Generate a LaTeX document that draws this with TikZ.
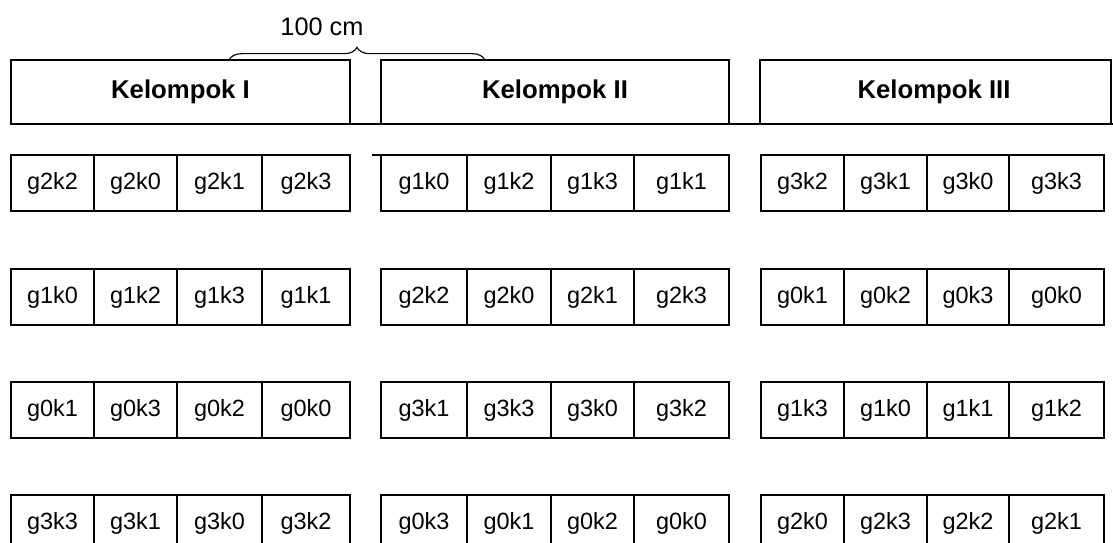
\documentclass[tikz,border=0pt]{standalone}
\usepackage{fontspec}
\setmainfont{Liberation Sans}
\usetikzlibrary{decorations.pathreplacing}

\tikzset{
	cell/.style={font=\fontsize{16.7}{20}\selectfont},
	head/.style={font=\fontsize{18.3}{22}\selectfont\bfseries},
}

\begin{document}
\begin{tikzpicture}[x=0.025cm,y=-0.025cm,line width=1.4pt]

	\useasboundingbox (0,0) rectangle (1113,543);
	\clip (0,0) rectangle (1113,543);

	\coordinate (b1) at (229,60);
	\coordinate (b2) at (485,60);
	\draw[line width=0.8pt,decorate,decoration={brace,amplitude=9pt}] (b1) -- (b2);
	\node (len) at (322,27) {\fontsize{18}{22}\selectfont 100 cm};

	\draw (11,60) rectangle (350,124);
	\draw (381,60) rectangle (729,124);
	\draw (760,124) |- (1111,60) -- (1111,124);
	\draw (11,124) -- (1113,124);

	\node[head] (k1) at (180.5,92) {Kelompok I};
	\node[head] (k2) at (555,92) {Kelompok II};
	\node[head] (k3) at (934,92) {Kelompok III};

	\draw (372,155) -- (381,155);

	\draw (11,155) rectangle (350,211) (94,155) -- (94,211) (177,155) -- (177,211) (262,155) -- (262,211);
	\draw (381,155) rectangle (729,211) (467,155) -- (467,211) (551,155) -- (551,211) (634,155) -- (634,211);
	\draw (761,155) rectangle (1104,211) (844,155) -- (844,211) (927,155) -- (927,211) (1009,155) -- (1009,211);

	\draw (11,269) rectangle (350,325) (94,269) -- (94,325) (177,269) -- (177,325) (262,269) -- (262,325);
	\draw (381,269) rectangle (729,325) (467,269) -- (467,325) (551,269) -- (551,325) (634,269) -- (634,325);
	\draw (761,269) rectangle (1104,325) (844,269) -- (844,325) (927,269) -- (927,325) (1009,269) -- (1009,325);

	\draw (11,382) rectangle (350,438) (94,382) -- (94,438) (177,382) -- (177,438) (262,382) -- (262,438);
	\draw (381,382) rectangle (729,438) (467,382) -- (467,438) (551,382) -- (551,438) (634,382) -- (634,438);
	\draw (761,382) rectangle (1104,438) (844,382) -- (844,438) (927,382) -- (927,438) (1009,382) -- (1009,438);

	\draw (11,495) rectangle (350,551) (94,495) -- (94,551) (177,495) -- (177,551) (262,495) -- (262,551);
	\draw (381,495) rectangle (729,551) (467,495) -- (467,551) (551,495) -- (551,551) (634,495) -- (634,551);
	\draw (761,495) rectangle (1104,551) (844,495) -- (844,551) (927,495) -- (927,551) (1009,495) -- (1009,551);

	\path[cell] (52.5,183) node (a11) {g2k2} (135.5,183) node (a12) {g2k0} (219.5,183) node (a13) {g2k1} (306,183) node (a14) {g2k3};
	\path[cell] (424,183) node (b11) {g1k0} (509,183) node (b12) {g1k2} (592.5,183) node (b13) {g1k3} (681.5,183) node (b14) {g1k1};
	\path[cell] (802.5,183) node (c11) {g3k2} (885.5,183) node (c12) {g3k1} (968,183) node (c13) {g3k0} (1056.5,183) node (c14) {g3k3};

	\path[cell] (52.5,297) node (a21) {g1k0} (135.5,297) node (a22) {g1k2} (219.5,297) node (a23) {g1k3} (306,297) node (a24) {g1k1};
	\path[cell] (424,297) node (b21) {g2k2} (509,297) node (b22) {g2k0} (592.5,297) node (b23) {g2k1} (681.5,297) node (b24) {g2k3};
	\path[cell] (802.5,297) node (c21) {g0k1} (885.5,297) node (c22) {g0k2} (968,297) node (c23) {g0k3} (1056.5,297) node (c24) {g0k0};

	\path[cell] (52.5,410) node (a31) {g0k1} (135.5,410) node (a32) {g0k3} (219.5,410) node (a33) {g0k2} (306,410) node (a34) {g0k0};
	\path[cell] (424,410) node (b31) {g3k1} (509,410) node (b32) {g3k3} (592.5,410) node (b33) {g3k0} (681.5,410) node (b34) {g3k2};
	\path[cell] (802.5,410) node (c31) {g1k3} (885.5,410) node (c32) {g1k0} (968,410) node (c33) {g1k1} (1056.5,410) node (c34) {g1k2};

	\path[cell] (52.5,523) node (a41) {g3k3} (135.5,523) node (a42) {g3k1} (219.5,523) node (a43) {g3k0} (306,523) node (a44) {g3k2};
	\path[cell] (424,523) node (b41) {g0k3} (509,523) node (b42) {g0k1} (592.5,523) node (b43) {g0k2} (681.5,523) node (b44) {g0k0};
	\path[cell] (802.5,523) node (c41) {g2k0} (885.5,523) node (c42) {g2k3} (968,523) node (c43) {g2k2} (1056.5,523) node (c44) {g2k1};

\end{tikzpicture}
\end{document}
